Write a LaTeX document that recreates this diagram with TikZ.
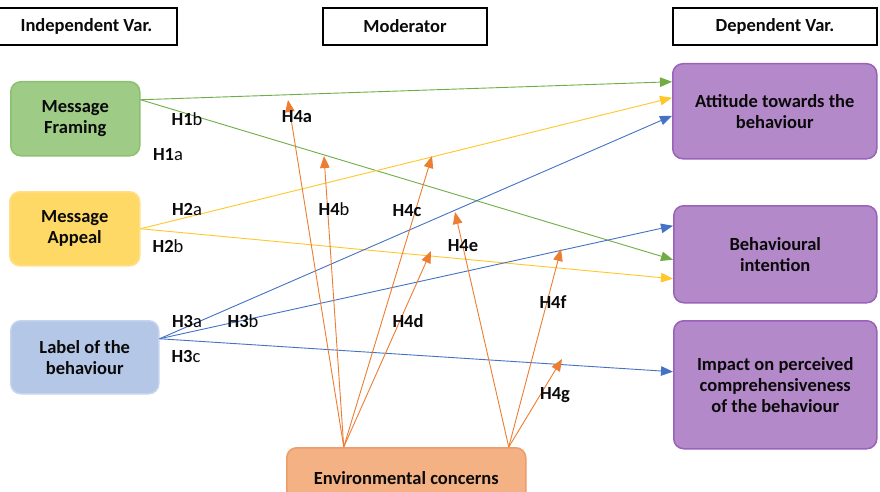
\documentclass[tikz,border=0pt]{standalone}
\usepackage{fontspec}
\setmainfont{Carlito}
\usetikzlibrary{arrows.meta,calc}
\definecolor{gfill}{HTML}{9ECB86}
\definecolor{gdraw}{HTML}{8DC071}
\definecolor{yfill}{HTML}{FFD966}
\definecolor{ydraw}{HTML}{FFE08A}
\definecolor{bfill}{HTML}{B4C7E7}
\definecolor{bdraw}{HTML}{C5D4EE}
\definecolor{pfill}{HTML}{B389C9}
\definecolor{pdraw}{HTML}{9A62B8}
\definecolor{ofill}{HTML}{F4B183}
\definecolor{odraw}{HTML}{EE9C6A}
\definecolor{gline}{HTML}{70AD47}
\definecolor{yline}{HTML}{FFC727}
\definecolor{bline}{HTML}{4472C4}
\definecolor{oline}{HTML}{ED7D31}
\definecolor{txt}{HTML}{0A0A0A}
\tikzset{
  every node/.style={font=\fontsize{18.5}{21}\selectfont\bfseries, text=txt},
  header/.style={draw=black, line width=2pt, fill=white, inner sep=0pt, anchor=north west},
  varbox/.style={rounded corners=10pt, line width=1.5pt, inner sep=0pt, align=center, anchor=north west},
  hlab/.style={inner sep=0pt},
  conn/.style={line width=0.9pt, -{Triangle[length=12pt,width=9.5pt]}},
}
\begin{document}
\begin{tikzpicture}[x=1pt,y=-1pt]
\useasboundingbox (0,0) rectangle (880,492);
\clip (0,0) rectangle (880,492);
\fill[white] (0,0) rectangle (880,492);
% headers
\node[header, minimum width=181pt, minimum height=37pt] (hiv) at (-5,7) {Independent Var.};
\node[header, minimum width=164pt, minimum height=37pt] (hmod) at (322,7) {Moderator};
\node[header, minimum width=204pt, minimum height=37pt] (hdv) at (672,7) {Dependent Var.};
% left boxes
\node[varbox, fill=gfill, draw=gdraw, minimum width=129pt, minimum height=74pt] (mf) at (10,81) {Message\\Framing};
\node[varbox, fill=yfill, draw=ydraw, minimum width=130pt, minimum height=74pt] (ma) at (9,191) {Message\\Appeal};
\node[varbox, fill=bfill, draw=bdraw, minimum width=148pt, minimum height=73pt] (lb) at (10,320) {Label of the\\behaviour};
% right boxes
\node[varbox, fill=pfill, draw=pdraw, minimum width=204pt, minimum height=95pt] (att) at (672,63) {Attitude towards the\\behaviour};
\node[varbox, fill=pfill, draw=pdraw, minimum width=203pt, minimum height=97pt] (bi) at (673,205) {Behavioural\\intention};
\node[varbox, fill=pfill, draw=pdraw, minimum width=203pt, minimum height=128pt] (imp) at (673,320) {Impact on perceived\\comprehensiveness\\of the behaviour};
% moderator box
\node[varbox, fill=ofill, draw=odraw, minimum width=239pt, minimum height=60pt] (env) at (286,447) {Environmental concerns};
% source points
\coordinate (mfs) at ([yshift=19pt]mf.east);
\coordinate (lbs) at ([yshift=18.5pt]lb.east);
\coordinate (envl) at ([xshift=-62.5pt]env.north);
\coordinate (envr) at ([xshift=102.5pt]env.north);
% independent -> dependent
\draw[conn, gline] (mfs) -- ([yshift=29.5pt]att.west);
\draw[conn, gline] (mfs) -- ([yshift=-5.5pt]bi.west);
\draw[conn, yline] (ma.east) -- ([yshift=13.5pt]att.west);
\draw[conn, yline] (ma.east) -- ([yshift=-24.5pt]bi.west);
\draw[conn, bline] (lbs) -- ([yshift=-4.5pt]att.west);
\draw[conn, bline] (lbs) -- ([yshift=28.5pt]bi.west);
\draw[conn, bline] (lbs) -- ([yshift=13pt]imp.west);
% moderator targets
\coordinate (t4a) at (288,100);
\coordinate (t4b) at (324,156);
\coordinate (t4c) at (432,156);
\coordinate (t4d) at (431,251);
\coordinate (t4e) at (455,212);
\coordinate (t4f) at (561,249);
\coordinate (t4g) at (562,359);
\draw[conn, oline] (envl) -- (t4a);
\draw[conn, oline] (envl) -- (t4b);
\draw[conn, oline] (envl) -- (t4c);
\draw[conn, oline] (envl) -- (t4d);
\draw[conn, oline] (envr) -- (t4e);
\draw[conn, oline] (envr) -- (t4f);
\draw[conn, oline] (envr) -- (t4g);
% labels
\node[hlab] (l1b) at (187,119) {H1\mdseries b};
\node[hlab] (l1a) at (168,155) {H1\mdseries a};
\node[hlab] (l2a) at (187,210) {H2\mdseries a};
\node[hlab] (l2b) at (168,246) {H2\mdseries b};
\node[hlab] (l3a) at (187,321) {H3\mdseries a};
\node[hlab] (l3b) at (243,321) {H3\mdseries b};
\node[hlab] (l3c) at (186,356) {H3\mdseries c};
\node[hlab] (l4a) at (297,117) {H4a};
\node[hlab] (l4b) at (334,209) {H4\mdseries b};
\node[hlab] (l4c) at (407,211) {H4c};
\node[hlab] (l4e) at (463,246) {H4e};
\node[hlab] (l4d) at (408,321) {H4d};
\node[hlab] (l4f) at (553,302) {H4f};
\node[hlab] (l4g) at (555,395) {H4g};
\end{tikzpicture}
\end{document}
